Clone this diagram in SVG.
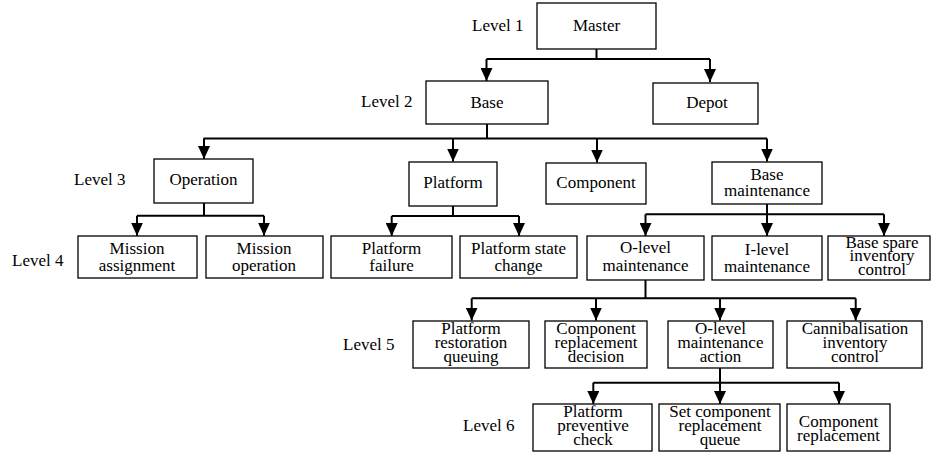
<svg xmlns="http://www.w3.org/2000/svg" width="931" height="455" viewBox="0 0 931 455">
<defs>
<style>
.n rect{fill:#fff;stroke:#000;stroke-width:1.3}
text{font-family:"Liberation Serif","Times New Roman",serif;font-size:17px;fill:#000}
.n text{text-anchor:middle}
.c path{fill:none;stroke:#000;stroke-width:2}
</style>
<marker id="ah" markerWidth="13" markerHeight="12" refX="13" refY="6" orient="auto" markerUnits="userSpaceOnUse" viewBox="0 0 13 12">
<path d="M0,0 L13,6 L0,12 Z" fill="#000"/>
</marker>
</defs>
<rect width="931" height="455" fill="#fff"/>

<g id="levels" font-family="Liberation Serif, Times New Roman, serif">
<text x="472" y="31">Level 1</text>
<text x="361" y="107">Level 2</text>
<text x="74" y="185">Level 3</text>
<text x="12" y="266">Level 4</text>
<text x="343" y="350">Level 5</text>
<text x="463" y="431">Level 6</text>
</g>

<g class="c" id="connectors">
<path d="M596.5,49 V59 M486.5,59 H710"/>
<path d="M486.5,59 V81" marker-end="url(#ah)"/>
<path d="M710,59 V82" marker-end="url(#ah)"/>
<path d="M487,124 V138.5 M203.5,138.5 H767"/>
<path d="M204,138.5 V159" marker-end="url(#ah)"/>
<path d="M453,138.5 V161.5" marker-end="url(#ah)"/>
<path d="M597,138.5 V162.5" marker-end="url(#ah)"/>
<path d="M767,138.5 V161.5" marker-end="url(#ah)"/>
<path d="M204,203 V215.7 M137,215.7 H264"/>
<path d="M137,215.7 V235.7" marker-end="url(#ah)"/>
<path d="M264,215.7 V235.7" marker-end="url(#ah)"/>
<path d="M453,206 V216 M391.7,216 H519"/>
<path d="M391.7,216 V236" marker-end="url(#ah)"/>
<path d="M519,216 V236" marker-end="url(#ah)"/>
<path d="M767,204 V214.3 M645.5,214.3 H884"/>
<path d="M645.5,214.3 V236" marker-end="url(#ah)"/>
<path d="M767,214.3 V236" marker-end="url(#ah)"/>
<path d="M884,214.3 V236" marker-end="url(#ah)"/>
<path d="M645.5,280 V298.3 M471.7,298.3 H855.7"/>
<path d="M471.7,298.3 V320.5" marker-end="url(#ah)"/>
<path d="M596,298.3 V320.5" marker-end="url(#ah)"/>
<path d="M720,298.3 V320.5" marker-end="url(#ah)"/>
<path d="M855.7,298.3 V320.5" marker-end="url(#ah)"/>
<path d="M720,368 V382.7 M593.3,382.7 H839"/>
<path d="M593.3,382.7 V404" marker-end="url(#ah)"/>
<path d="M720,382.7 V404" marker-end="url(#ah)"/>
<path d="M839,382.7 V404" marker-end="url(#ah)"/>
</g>

<g class="n" id="master"><rect x="537" y="3" width="119" height="46"/><text x="596.5" y="31">Master</text></g>
<g class="n" id="base"><rect x="426" y="81" width="122" height="43"/><text x="487" y="108">Base</text></g>
<g class="n" id="depot"><rect x="653" y="83" width="105" height="41"/><text x="707" y="108">Depot</text></g>

<g class="n" id="operation"><rect x="154" y="159" width="99" height="44"/><text x="203.5" y="185">Operation</text></g>
<g class="n" id="platform"><rect x="409" y="162" width="88" height="44"/><text x="453" y="188">Platform</text></g>
<g class="n" id="component"><rect x="546" y="163" width="100" height="41"/><text x="596" y="188">Component</text></g>
<g class="n" id="base-maintenance"><rect x="712" y="162" width="110" height="42"/><text x="767" y="179.5">Base</text><text x="767" y="196">maintenance</text></g>

<g class="n" id="mission-assignment"><rect x="78" y="236" width="119" height="42"/><text x="137" y="253.5">Mission</text><text x="137" y="270.5">assignment</text></g>
<g class="n" id="mission-operation"><rect x="206" y="236" width="117" height="42"/><text x="264" y="253.5">Mission</text><text x="264" y="270.5">operation</text></g>
<g class="n" id="platform-failure"><rect x="331" y="236" width="121" height="42"/><text x="391.5" y="253.5">Platform</text><text x="391.5" y="270.5">failure</text></g>
<g class="n" id="platform-state-change"><rect x="460" y="236" width="117" height="42"/><text x="518.5" y="253.5">Platform state</text><text x="518.5" y="270.5">change</text></g>
<g class="n" id="o-level-maintenance"><rect x="587" y="236" width="117" height="44"/><text x="645.5" y="253">O-level</text><text x="645.5" y="270.5">maintenance</text></g>
<g class="n" id="i-level-maintenance"><rect x="712" y="236" width="110" height="44"/><text x="767" y="254.5">I-level</text><text x="767" y="271.5">maintenance</text></g>
<g class="n" id="base-spare-inventory-control"><rect x="828" y="236" width="102" height="44"/><text x="882" y="247.5">Base spare</text><text x="882" y="261.3">inventory</text><text x="882" y="275">control</text></g>

<g class="n" id="platform-restoration-queuing"><rect x="413" y="321" width="116" height="47"/><text x="471" y="333.5">Platform</text><text x="471" y="348">restoration</text><text x="471" y="362">queuing</text></g>
<g class="n" id="component-replacement-decision"><rect x="545" y="321" width="102" height="47"/><text x="596" y="333.5">Component</text><text x="596" y="348">replacement</text><text x="596" y="362">decision</text></g>
<g class="n" id="o-level-maintenance-action"><rect x="668" y="321" width="105" height="47"/><text x="720.5" y="333.5">O-level</text><text x="720.5" y="348">maintenance</text><text x="720.5" y="362">action</text></g>
<g class="n" id="cannibalisation-inventory-control"><rect x="787" y="321" width="135" height="47"/><text x="855" y="333.5">Cannibalisation</text><text x="855" y="348">inventory</text><text x="855" y="362">control</text></g>

<g class="n" id="platform-preventive-check"><rect x="533" y="404" width="119" height="47"/><text x="593" y="416.7">Platform</text><text x="593" y="430.7">preventive</text><text x="593" y="445">check</text></g>
<g class="n" id="set-component-replacement-queue"><rect x="659" y="404" width="121" height="47"/><text x="720" y="416.7">Set component</text><text x="720" y="430.7">replacement</text><text x="720" y="445">queue</text></g>
<g class="n" id="component-replacement"><rect x="787" y="404" width="103" height="47"/><text x="838.5" y="427">Component</text><text x="838.5" y="441">replacement</text></g>
</svg>
